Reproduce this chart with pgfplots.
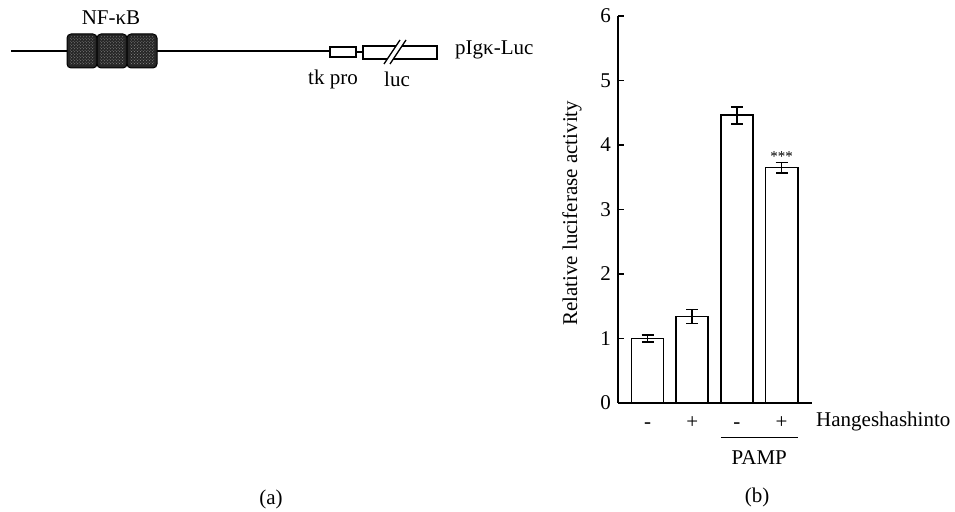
\documentclass[border=0pt]{standalone}
\usepackage{pgfplots}
\pgfplotsset{compat=1.18}
\usetikzlibrary{patterns}
\usepackage{fontspec}
\setmainfont{Liberation Serif}
\begin{document}
\fontsize{21bp}{25bp}\selectfont
\begin{tikzpicture}
\path[use as bounding box] (0,0) rectangle (955bp,512bp);
\begin{scope}[x=1bp,y=-1bp,yshift=512bp]
  % schematic (a)
  \draw[line width=1.3bp] (11,51) -- (67,51);
  \draw[line width=1.3bp] (157,51) -- (330,51);
  \foreach \x in {67,97,127}{
    \draw[line width=1bp, fill=black!85, rounded corners=4bp] (\x,34) rectangle ++(30,34);
    \path[pattern=crosshatch dots, pattern color=black!45] (\x+3,37) rectangle ++(24,28);
  }
  \draw[line width=1.3bp] (330,47) rectangle (356,57);
  \draw[line width=1.3bp] (356,52) -- (363,52);
  \draw[line width=1.3bp] (363,46) rectangle (437,59);
  \fill[white] (384,64) -- (400,40) -- (406,40) -- (390,64) -- cycle;
  \draw[line width=1.3bp] (384,64) -- (400,40);
  \draw[line width=1.3bp] (390,64) -- (406,40);
  \node at (111,18) {NF-κB};
  \node at (333,79) {tk pro};
  \node at (397,79) {luc};
  \node[anchor=west, inner sep=0pt] at (455,50) {pIgκ-Luc};
  \node at (271,499) {(a)};
  \node at (757,497) {(b)};
\end{scope}
\begin{axis}[
  at={(618bp,109bp)}, anchor=south west,
  scale only axis, width=194bp, height=387bp,
  xmin=0.34, xmax=4.68, ymin=0, ymax=6,
  axis x line=bottom, axis y line=left,
  axis line style={line width=1.7bp, -},
  tick align=inside,
  ytick={0,1,2,3,4,5,6},
  xtick={1,2,3,4}, xticklabels={-,+,-,+},
  major tick length=6bp,
  ytick style={line width=1.7bp, black},
  xtick style={draw=none},
  /pgf/number format/assume math mode=true,
  ticklabel style={font=\fontsize{21bp}{24bp}\selectfont},
  xticklabel style={text height=10bp, text depth=2bp, anchor=north, yshift=-2bp},
  ylabel={Relative luciferase activity},
  ylabel style={at={(axis description cs:-0.237,0.49)}, anchor=center, font=\fontsize{21bp}{25bp}\selectfont},
  ybar, bar width=0.72, bar shift=0pt,
  clip=false,
]
\addplot[draw=black, fill=white, line width=1.7bp,
  error bars/.cd, y dir=both, y explicit,
  error bar style={line width=1.6bp, black},
  error mark options={rotate=90, mark size=6bp, line width=1.6bp, black}]
  coordinates {
  (1,1.00) +- (0,0.05)
  (2,1.34) +- (0,0.11)
  (3,4.46) +- (0,0.13)
  (4,3.65) +- (0,0.08)
};
\node[anchor=south, inner sep=1bp, font=\fontsize{15bp}{17bp}\selectfont] at (axis cs:4,3.73) {***};
\node[anchor=west, inner sep=0pt] at (axis cs:4.77,-0.28) {Hangeshashinto};
\draw[line width=1.2bp] (axis cs:2.64,-0.54) -- (axis cs:4.36,-0.54);
\node at (axis cs:3.5,-0.85) {PAMP};
\end{axis}
\end{tikzpicture}
\end{document}
